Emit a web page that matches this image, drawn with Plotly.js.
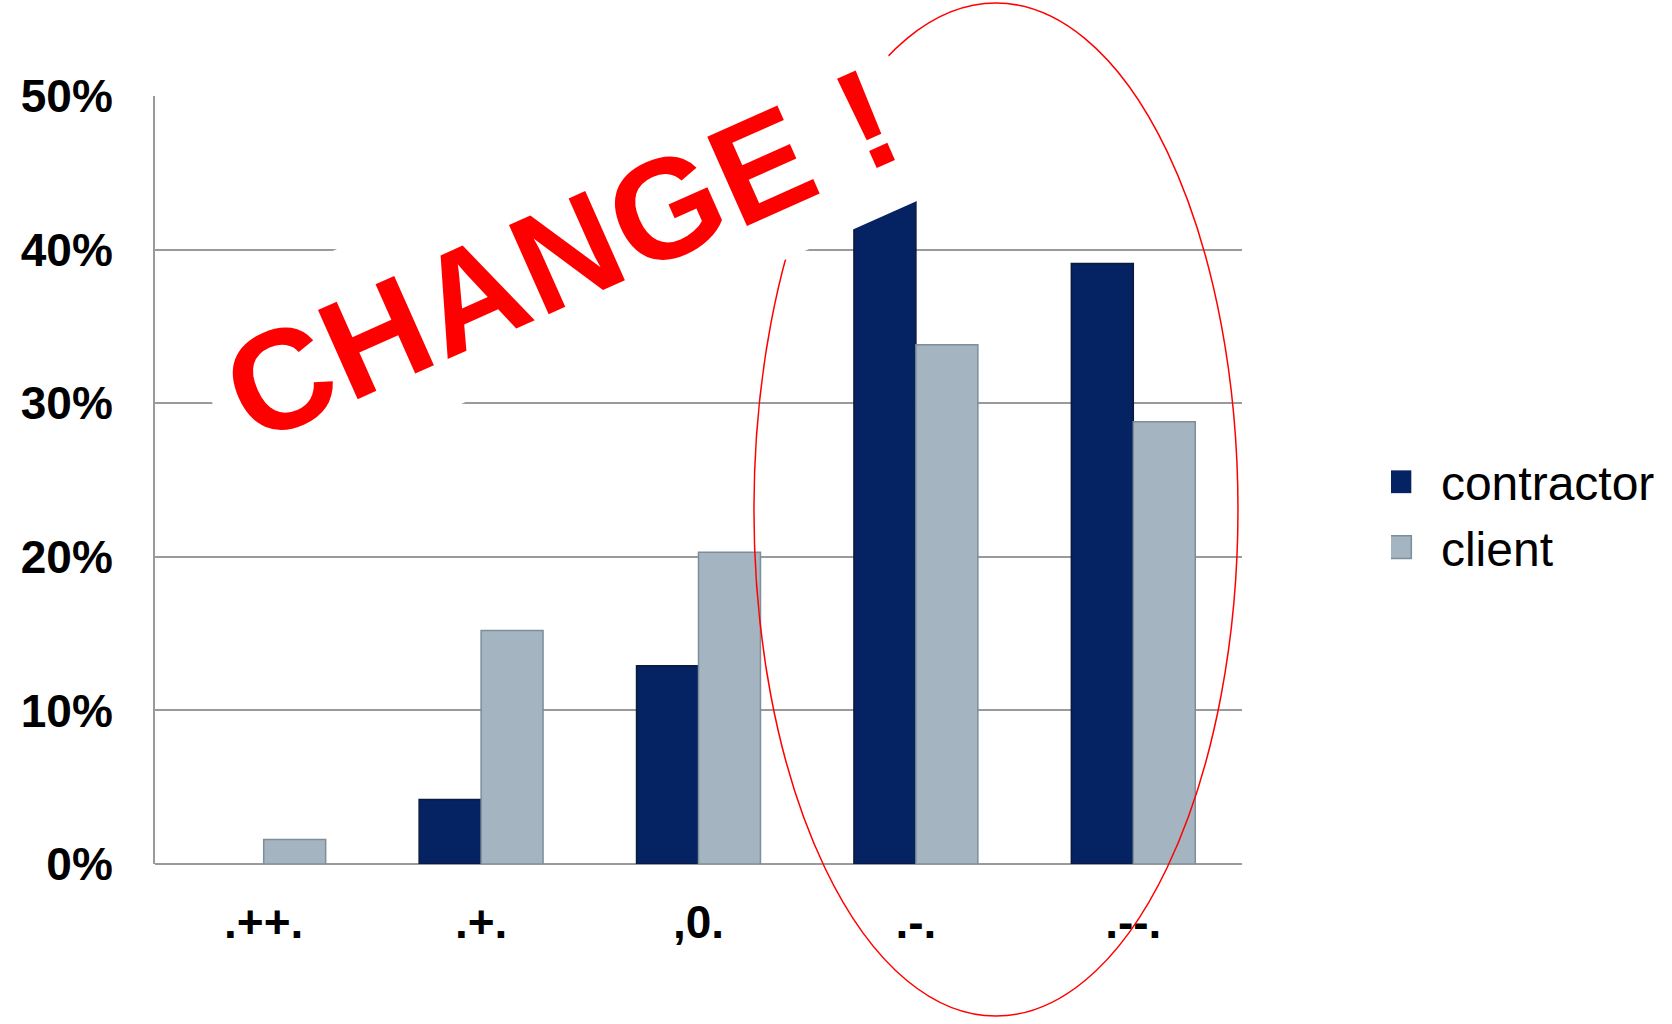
<!DOCTYPE html>
<html>
<head>
<meta charset="utf-8">
<script src="https://cdn.plot.ly/plotly-3.0.1.min.js"></script>
<style>
  html, body { margin: 0; padding: 0; background: #fff; }
  #chart { width: 1672px; height: 1024px; }
</style>
</head>
<body>
<div id="chart"></div>
<script>
// Rating categories on the x axis
const categories = ['.++.', '.+.', ',0.', '.-.', '.--.'];

// Share of answers per rating (%)
const contractorValues = [0, 4.2, 12.9, 44, 39.1];
const clientValues = [1.6, 15.2, 20.3, 33.8, 28.8];

// Series names and y tick labels
const seriesNames = ['contractor', 'client'];
const yTickValues = [0, 10, 20, 30, 40, 50];
const yTickLabels = ['0%', '10%', '20%', '30%', '40%', '50%'];

const FONT = 'Arial, "Liberation Sans", sans-serif';

// no outline on empty bars, so a zero value leaves no hairline on the axis
const outline = vals => vals.map(v => (v > 0 ? 1.5 : 0));

const traces = [
  {
    type: 'bar',
    name: seriesNames[0],
    x: categories,
    y: contractorValues,
    marker: { color: '#052262', line: { color: '#0b1a3c', width: outline(contractorValues) } },
    hoverinfo: 'x+y'
  },
  {
    type: 'bar',
    name: seriesNames[1],
    x: categories,
    y: clientValues,
    marker: { color: '#a4b5c1', line: { color: '#7d8e9a', width: outline(clientValues) } },
    hoverinfo: 'x+y'
  }
];

const layout = {
  width: 1672,
  height: 1024,
  paper_bgcolor: '#ffffff',
  plot_bgcolor: '#ffffff',
  margin: { l: 155, r: 430, t: 96, b: 160, pad: 0, autoexpand: false },
  barmode: 'group',
  bargap: 0.43,
  bargroupgap: 0,
  showlegend: true,
  legend: {
    x: 1.137, xanchor: 'left',
    y: 0.455, yanchor: 'middle',
    font: { family: FONT, size: 48, color: '#000' },
    bgcolor: 'rgba(0,0,0,0)',
    tracegroupgap: 0,
    itemwidth: 40
  },
  xaxis: {
    type: 'category',
    showgrid: false,
    zeroline: false,
    showline: false,
    ticks: '',
    ticklabelstandoff: 27,
    tickfont: { family: FONT, size: 46, color: '#000', weight: 'bold' }
  },
  yaxis: {
    range: [0, 50],
    tickvals: yTickValues,
    ticktext: yTickLabels,
    showgrid: true,
    gridcolor: '#9a9a9a',
    gridwidth: 2,
    zeroline: true,
    zerolinecolor: '#9a9a9a',
    zerolinewidth: 2,
    showline: true,
    linecolor: '#9a9a9a',
    linewidth: 2,
    ticks: '',
    ticklabelstandoff: 31,
    tickfont: { family: FONT, size: 46, color: '#000', weight: 'bold' }
  },
  shapes: [
    {
      // red ring around the two negative ratings
      type: 'circle',
      xref: 'paper', yref: 'paper',
      x0: 0.551, x1: 0.9963,
      y0: -0.198, y1: 1.121,
      line: { color: '#ff0000', width: 1.5 },
      fillcolor: 'rgba(0,0,0,0)',
      layer: 'above'
    }
  ],
  annotations: [
    {
      xref: 'paper', yref: 'paper',
      x: 0.3744, y: 0.794,
      xanchor: 'center', yanchor: 'middle',
      text: '<span style="letter-spacing:2px">CHANGE !</span>',
      textangle: -24,
      showarrow: false,
      bgcolor: '#ffffff',
      borderpad: 0,
      borderwidth: 0,
      width: 759,
      height: 192,
      font: { family: FONT, size: 142, color: '#ff0000', weight: 'bold' }
    }
  ]
};

Plotly.newPlot('chart', traces, layout, { displayModeBar: false, staticPlot: true })
  .then(gd => {
    // larger legend swatches to suit the big legend text
    gd.querySelectorAll('.legend .legendpoints path').forEach(p => {
      p.setAttribute('transform', 'translate(9,0) scale(1.9)');
      p.style.strokeWidth = '0.8px';
    });
  });
</script>
</body>
</html>
